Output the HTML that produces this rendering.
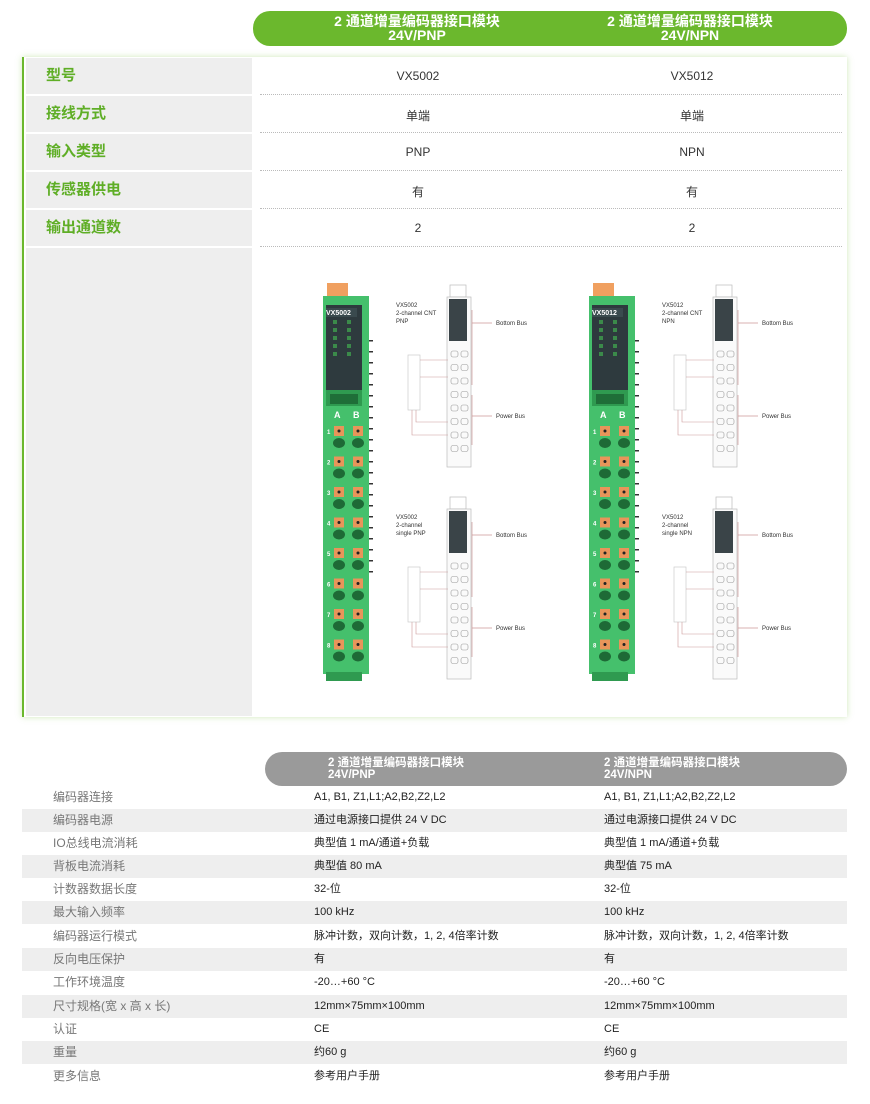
<!DOCTYPE html>
<html><head><meta charset="utf-8">
<style>
*{margin:0;padding:0;box-sizing:border-box}
body{width:870px;height:1104px;background:#fff;font-family:"Liberation Sans","Noto Sans CJK SC",sans-serif;position:relative;overflow:hidden}
.abs{position:absolute}
.pill{position:absolute;left:253px;top:11px;width:594px;height:35px;background:#6bb82d;border-radius:17px}
.ph{position:absolute;color:#fff;font-weight:bold;font-size:14px;line-height:14px;text-align:center;width:280px}
.card{position:absolute;left:22px;top:57px;width:825px;height:660px;border-left:2px solid #6bb82d;box-shadow:0 0 6px rgba(120,190,60,.35);background:#fff}
.lab{position:absolute;left:2px;width:226px;height:36px;background:#eeeeee;color:#5fae26;font-weight:bold;font-size:15px;line-height:36px;padding-left:20px}
.val{position:absolute;font-size:12px;color:#333;text-align:center;width:200px}
.dot{position:absolute;left:236px;width:582px;border-top:1px dotted #bbb}
.gp{position:absolute;left:265px;top:752px;width:582px;height:34px;background:#9a9a9a;border-radius:17px}
.gh{position:absolute;color:#fff;font-weight:bold;font-size:11.5px;line-height:12px}
.row{position:absolute;left:22px;width:825px;height:23px;font-size:11px;color:#222;line-height:23px}
.row.g{background:#eeeeee}
.row .l{position:absolute;left:31px;color:#777;font-size:12px}
.row .a{position:absolute;left:292px}
.row .b{position:absolute;left:582px}
</style></head><body>
<div class="pill"></div>
<div class="ph" style="left:277px;top:14px">2 通道增量编码器接口模块<br>24V/PNP</div>
<div class="ph" style="left:550px;top:14px">2 通道增量编码器接口模块<br>24V/NPN</div>

<div class="card">
<div class="lab" style="top:1px">型号</div>
<div class="lab" style="top:39px">接线方式</div>
<div class="lab" style="top:77px">输入类型</div>
<div class="lab" style="top:115px">传感器供电</div>
<div class="lab" style="top:153px">输出通道数</div>
<div class="lab" style="top:191px;height:468px"></div>
<div class="val" style="left:294px;top:12px">VX5002</div><div class="val" style="left:568px;top:12px">VX5012</div>
<div class="val" style="left:294px;top:50px">单端</div><div class="val" style="left:568px;top:50px">单端</div>
<div class="val" style="left:294px;top:88px">PNP</div><div class="val" style="left:568px;top:88px">NPN</div>
<div class="val" style="left:294px;top:126px">有</div><div class="val" style="left:568px;top:126px">有</div>
<div class="val" style="left:294px;top:164px">2</div><div class="val" style="left:568px;top:164px">2</div>
<div class="dot" style="top:37px"></div><div class="dot" style="top:75px"></div><div class="dot" style="top:113px"></div><div class="dot" style="top:151px"></div><div class="dot" style="top:189px"></div>
</div>

<svg class="abs" style="left:0;top:0" width="870" height="730" font-family="Liberation Sans,sans-serif">
<g id="m1"></g><g id="m2" transform="translate(266,0)"></g>
<g font-size="6" fill="#333">
<text x="326" y="315" fill="#fff" font-weight="bold" font-size="7">VX5002</text>
<text x="592" y="315" fill="#fff" font-weight="bold" font-size="7">VX5012</text>
<text x="396" y="307">VX5002</text><text x="396" y="315">2-channel CNT</text><text x="396" y="323">PNP</text>
<text x="396" y="519">VX5002</text><text x="396" y="527">2-channel</text><text x="396" y="535">single PNP</text>
<text x="662" y="307">VX5012</text><text x="662" y="315">2-channel CNT</text><text x="662" y="323">NPN</text>
<text x="662" y="519">VX5012</text><text x="662" y="527">2-channel</text><text x="662" y="535">single NPN</text>
<text x="496" y="325">Bottom Bus</text><text x="496" y="418">Power Bus</text>
<text x="496" y="537">Bottom Bus</text><text x="496" y="630">Power Bus</text>
<text x="762" y="325">Bottom Bus</text><text x="762" y="418">Power Bus</text>
<text x="762" y="537">Bottom Bus</text><text x="762" y="630">Power Bus</text>
</g>
<g font-size="9" font-weight="bold" fill="#fff">
<text x="334" y="418">A</text><text x="353" y="418">B</text>
<text x="600" y="418">A</text><text x="619" y="418">B</text>
</g>
</svg>

<div class="gp"></div>
<div class="gh" style="left:328px;top:757px">2 通道增量编码器接口模块<br>24V/PNP</div>
<div class="gh" style="left:604px;top:757px">2 通道增量编码器接口模块<br>24V/NPN</div>

<div class="row" style="top:786px"><span class="l">编码器连接</span><span class="a">A1, B1, Z1,L1;A2,B2,Z2,L2</span><span class="b">A1, B1, Z1,L1;A2,B2,Z2,L2</span></div>
<div class="row g" style="top:809px"><span class="l">编码器电源</span><span class="a">通过电源接口提供 24 V DC</span><span class="b">通过电源接口提供 24 V DC</span></div>
<div class="row" style="top:832px"><span class="l">IO总线电流消耗</span><span class="a">典型值 1 mA/通道+负载</span><span class="b">典型值 1 mA/通道+负载</span></div>
<div class="row g" style="top:855px"><span class="l">背板电流消耗</span><span class="a">典型值 80 mA</span><span class="b">典型值 75 mA</span></div>
<div class="row" style="top:878px"><span class="l">计数器数据长度</span><span class="a">32-位</span><span class="b">32-位</span></div>
<div class="row g" style="top:901px"><span class="l">最大输入频率</span><span class="a">100 kHz</span><span class="b">100 kHz</span></div>
<div class="row" style="top:925px"><span class="l">编码器运行模式</span><span class="a">脉冲计数，双向计数，1, 2, 4倍率计数</span><span class="b">脉冲计数，双向计数，1, 2, 4倍率计数</span></div>
<div class="row g" style="top:948px"><span class="l">反向电压保护</span><span class="a">有</span><span class="b">有</span></div>
<div class="row" style="top:971px"><span class="l">工作环境温度</span><span class="a">-20…+60 °C</span><span class="b">-20…+60 °C</span></div>
<div class="row g" style="top:995px"><span class="l">尺寸规格(宽 x 高 x 长)</span><span class="a">12mm×75mm×100mm</span><span class="b">12mm×75mm×100mm</span></div>
<div class="row" style="top:1018px"><span class="l">认证</span><span class="a">CE</span><span class="b">CE</span></div>
<div class="row g" style="top:1041px"><span class="l">重量</span><span class="a">约60 g</span><span class="b">约60 g</span></div>
<div class="row" style="top:1065px"><span class="l">更多信息</span><span class="a">参考用户手册</span><span class="b">参考用户手册</span></div>

<script>
var NS="http://www.w3.org/2000/svg",s='';
// orange top
s+='<rect x="327" y="283" width="21" height="16" fill="#f0a060"/>';
s+='<rect x="323" y="296" width="46" height="378" fill="#45c06c"/>';
s+='<rect x="326" y="305" width="36" height="86" fill="#2e3a3e"/>';
s+='<rect x="326" y="308" width="31" height="9" fill="#3a4a4e"/>';
for(var i=0;i<5;i++){s+='<rect x="333" y="'+(320+i*8)+'" width="4" height="4" fill="#3b8a4a"/><rect x="347" y="'+(320+i*8)+'" width="4" height="4" fill="#3b8a4a"/>';}
s+='<rect x="326" y="390" width="36" height="16" fill="#2f9a50"/>';
s+='<rect x="330" y="394" width="28" height="10" fill="#1f6e38"/>';
for(var i=0;i<8;i++){var y=426+i*30.5;
 s+='<rect x="334" y="'+y+'" width="10" height="10" fill="#e8955a"/><circle cx="339" cy="'+(y+5)+'" r="1.5" fill="#222"/>';
 s+='<rect x="353" y="'+y+'" width="10" height="10" fill="#e8955a"/><circle cx="358" cy="'+(y+5)+'" r="1.5" fill="#222"/>';
 s+='<ellipse cx="339" cy="'+(y+17)+'" rx="6" ry="5" fill="#1e6a36"/><ellipse cx="358" cy="'+(y+17)+'" rx="6" ry="5" fill="#1e6a36"/>';
 s+='<text x="327" y="'+(y+8)+'" font-size="6" fill="#fff" font-weight="bold">'+(i+1)+'</text>';}
for(var i=0;i<22;i++){s+='<rect x="369" y="'+(340+i*11)+'" width="4" height="1.5" fill="#333"/>';}
s+='<rect x="326" y="672" width="36" height="9" fill="#2f9a50"/>';
function diag(o){var t='';
 t+='<rect x="450" y="'+(o)+'" width="16" height="12" fill="none" stroke="#bbb" stroke-width=".7"/>';
 t+='<rect x="447" y="'+(o+12)+'" width="24" height="170" fill="#fafafa" stroke="#bbb" stroke-width=".7"/>';
 t+='<rect x="449" y="'+(o+14)+'" width="18" height="42" fill="#3a4448"/>';
 for(var k=0;k<8;k++){var yy=o+66+k*13.5;t+='<rect x="451" y="'+yy+'" width="7" height="6" rx="2" fill="none" stroke="#999" stroke-width=".6"/><rect x="461" y="'+yy+'" width="7" height="6" rx="2" fill="none" stroke="#999" stroke-width=".6"/>';}
 t+='<path d="M472 '+(o+25)+'V'+(o+100)+'M472 '+(o+38)+'H492M472 '+(o+110)+'V'+(o+160)+'M472 '+(o+131)+'H492" stroke="#c99" stroke-width=".7" fill="none"/>';
 t+='<rect x="408" y="'+(o+70)+'" width="12" height="55" fill="#fff" stroke="#ccc" stroke-width=".7"/>';
 t+='<path d="M420 '+(o+75)+'H448M420 '+(o+92)+'H448M412 '+(o+125)+'V'+(o+150)+'H448M416 '+(o+125)+'V'+(o+137)+'H448" stroke="#c99" stroke-width=".6" fill="none"/>';
 return t;}
s+=diag(285)+diag(497);
var svgwrap='<svg xmlns="'+NS+'">'+s+'</svg>';
var doc=new DOMParser().parseFromString(svgwrap,"image/svg+xml").documentElement;
['m1','m2'].forEach(function(id){var g=document.getElementById(id);for(var n=doc.firstChild;n;n=n.nextSibling){g.appendChild(document.importNode(n,true));}});
</script>
</body></html>
